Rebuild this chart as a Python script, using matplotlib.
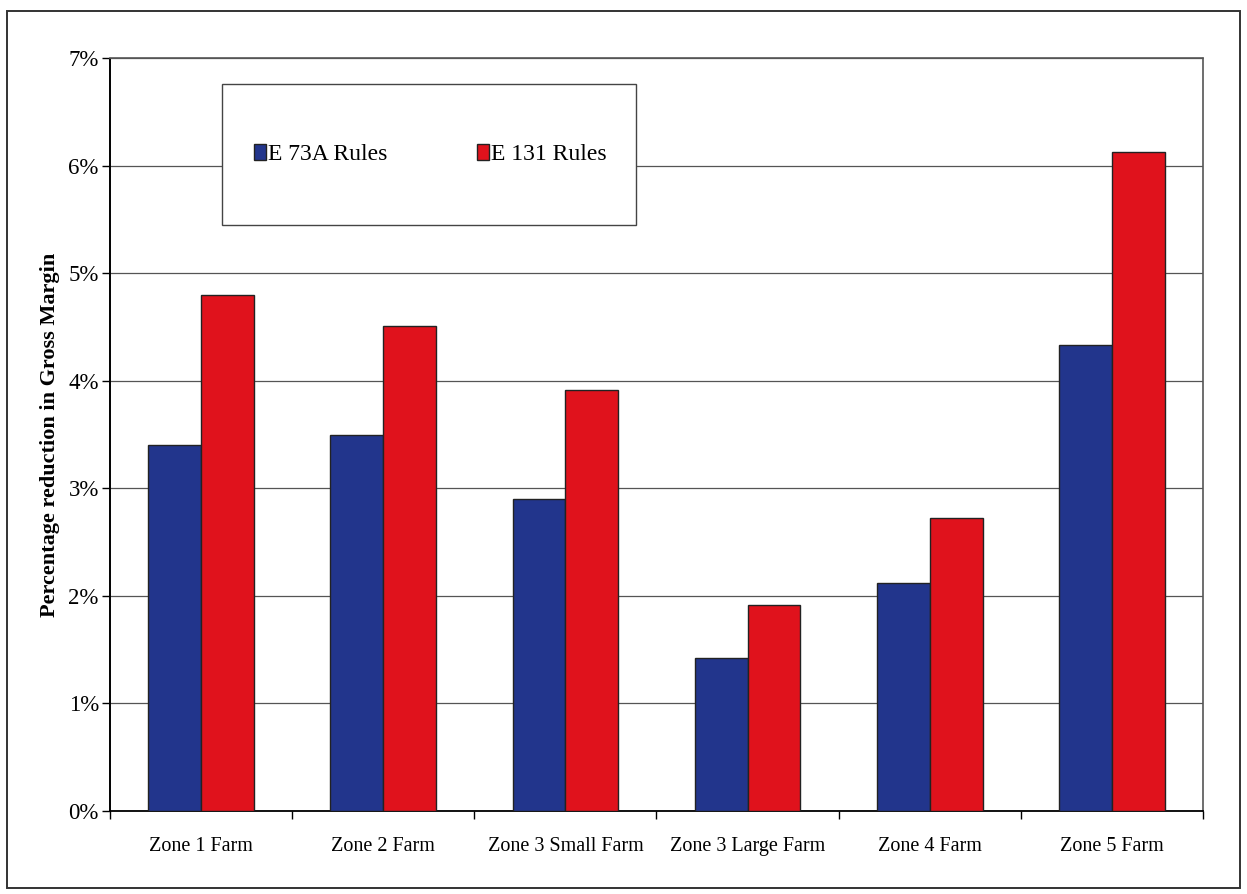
import matplotlib.pyplot as plt
import numpy as np
from matplotlib.patches import Rectangle
from matplotlib.ticker import FuncFormatter, FixedLocator

plt.rcParams['font.family'] = ['Liberation Serif', 'DejaVu Serif']

# Percentage reduction in gross margin per farm type
zones = ["Zone 1 Farm", "Zone 2 Farm", "Zone 3 Small Farm", "Zone 3 Large Farm",
         "Zone 4 Farm", "Zone 5 Farm"]
e73a = [3.4, 3.5, 2.9, 1.42, 2.12, 4.33]
e131 = [4.8, 4.51, 3.91, 1.92, 2.72, 6.13]

blue = "#22358c"
red = "#e0121c"

fig = plt.figure(figsize=(12.47, 8.94), dpi=100)
ax = fig.add_axes([0.0882, 0.0928, 0.8765, 0.8422])

x = np.arange(len(zones))
w = 0.29
ax.bar(x - w / 2, e73a, w, color=blue, edgecolor="#222222", linewidth=1.0,
       label="E 73A Rules", zorder=3)
ax.bar(x + w / 2, e131, w, color=red, edgecolor="#222222", linewidth=1.0,
       label="E 131 Rules", zorder=3)

ax.set_xlim(-0.5, len(zones) - 0.5)
ax.set_ylim(0, 7)
ax.set_yticks(range(0, 8))
ax.yaxis.set_major_formatter(FuncFormatter(lambda v, p: f"{v:.0f}%"))
ax.grid(axis="y", color="#555555", linewidth=0.9, zorder=0)

# category labels centered, tick marks between categories
ax.set_xticks(x)
ax.set_xticklabels(zones, fontsize=14.5)
ax.tick_params(axis="x", which="major", length=0, pad=19)
ax.xaxis.set_minor_locator(FixedLocator(np.arange(-0.5, len(zones), 1.0)))
ax.tick_params(axis="x", which="minor", length=6, width=1, direction="out")
ax.tick_params(axis="y", labelsize=16.5, length=6, width=1, direction="out", pad=2)

for side in ["top", "right"]:
    ax.spines[side].set_linestyle((0, (1.5, 1)))
    ax.spines[side].set_color("#555555")
    ax.spines[side].set_linewidth(1.2)
ax.spines["left"].set_linestyle((0, (1.5, 1)))
ax.spines["left"].set_linewidth(1.4)
ax.spines["bottom"].set_linewidth(1.3)

ax.set_ylabel("Percentage reduction in Gross Margin", fontsize=16,
              fontweight="bold", labelpad=6)

# legend box
box = Rectangle((0.1025, 0.778), 0.3785, 0.187, transform=ax.transAxes,
                facecolor="white", edgecolor="#444444", linewidth=1.0, zorder=4)
ax.add_patch(box)
leg = ax.legend(loc="center", bbox_to_anchor=(0.293, 0.872), ncol=2, frameon=False,
                fontsize=17, handlelength=0.5, handleheight=0.7, handletextpad=0.1,
                columnspacing=3.8)
leg.set_zorder(5)

# outer frame
fig.add_artist(Rectangle((0.006, 0.007), 0.988, 0.981, transform=fig.transFigure,
                         fill=False, edgecolor="#333333", linewidth=1.4))

fig.savefig("out.png", dpi=100)
